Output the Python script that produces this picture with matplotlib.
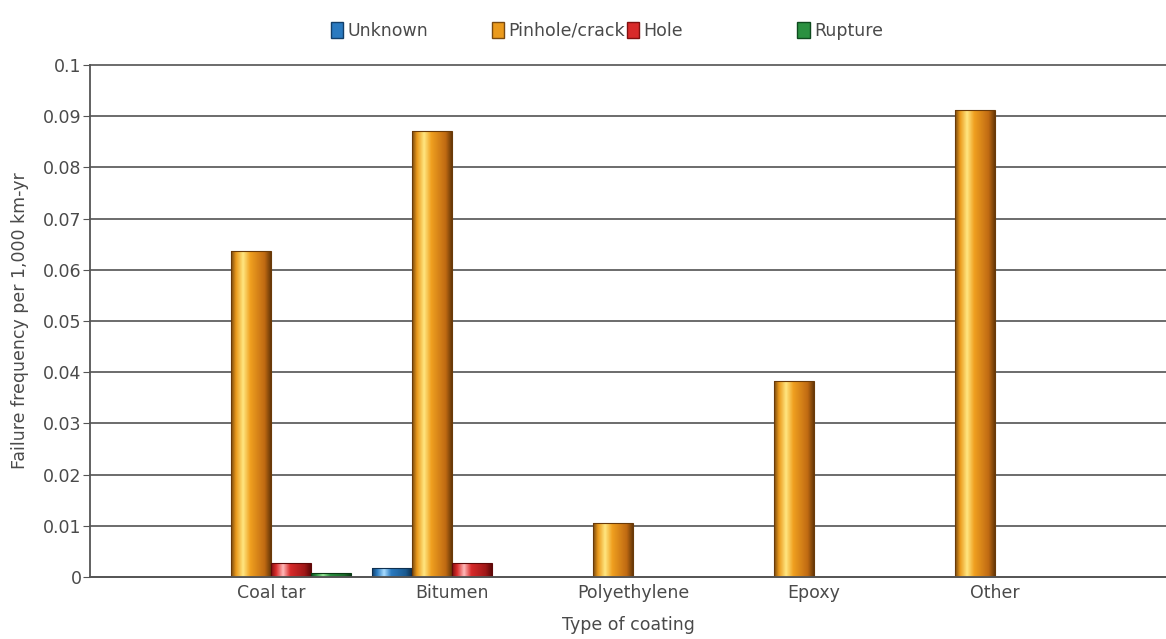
import numpy as np
import matplotlib
matplotlib.use("Agg")
import matplotlib.pyplot as plt
from matplotlib.colors import LinearSegmentedColormap
from matplotlib.patches import Patch

# data
coatings = ["Coal tar", "Bitumen", "Polyethylene", "Epoxy", "Other"]
series = ["Unknown", "Pinhole/crack", "Hole", "Rupture"]
unknown = [0.0, 0.0018, 0.0, 0.0, 0.0]
pinhole = [0.0637, 0.0872, 0.0105, 0.0383, 0.0912]
hole = [0.0027, 0.0027, 0.0, 0.0, 0.0]
rupture = [0.0008, 0.0, 0.0, 0.0, 0.0]
yticks = [0, 0.01, 0.02, 0.03, 0.04, 0.05, 0.06, 0.07, 0.08, 0.09, 0.1]
ytick_labels = ["0", "0.01", "0.02", "0.03", "0.04", "0.05", "0.06", "0.07", "0.08", "0.09", "0.1"]

values = [unknown, pinhole, hole, rupture]

# colour stops for the cylinder look: edge, mid, highlight, mid, shade, edge
shades = {
    "Unknown": ["#123f6a", "#2a7ac0", "#a8dcff", "#2a7ac0", "#1a5a90", "#0e3050"],
    "Pinhole/crack": ["#7a4a10", "#eb9a1c", "#ffe680", "#f0a020", "#c06a12", "#6a3a08"],
    "Hole": ["#801010", "#d82a2a", "#ffb8b8", "#d82a2a", "#a01818", "#600808"],
    "Rupture": ["#0e4a1e", "#2a9040", "#98e898", "#2a9040", "#1a6a2a", "#0a3a14"],
}
stops = [0.0, 0.12, 0.3, 0.48, 0.85, 1.0]
legend_x = [0.2765, 0.4145, 0.5305, 0.6765]

plt.rcParams["font.family"] = ["DejaVu Sans"]
text_color = "#4a4a4a"
fs = 12.5

fig = plt.figure(figsize=(11.66, 6.39), dpi=100)
ax = fig.add_axes([0.0772, 0.097, 0.9228, 0.8013])

x = np.arange(len(coatings))
w = 0.22
offsets = [-1.5, -0.5, 0.5, 1.5]

grad = np.linspace(0, 1, 64).reshape(1, -1)
for name, vals, off in zip(series, values, offsets):
    cmap = LinearSegmentedColormap.from_list(name, list(zip(stops, shades[name])))
    bars = ax.bar(x + off * w, vals, w, color="none", edgecolor="none", zorder=3)
    for b in bars:
        h = b.get_height()
        if h <= 0:
            continue
        x0 = b.get_x()
        im = ax.imshow(grad, extent=[x0, x0 + b.get_width(), 0, h], aspect="auto",
                       cmap=cmap, interpolation="bilinear", zorder=3)
        im.set_clip_path(b)
        ax.add_patch(plt.Rectangle((x0, 0), b.get_width(), h, fill=False,
                                   edgecolor=shades[name][-1], lw=0.8, zorder=4))

ax.set_xlim(-1, 4.945)
ax.set_ylim(0, 0.1)
ax.set_yticks(yticks)
ax.set_yticklabels(ytick_labels)
ax.set_xticks(x)
ax.set_xticklabels(coatings)
ax.yaxis.grid(True, color="#606060", lw=1.3, zorder=1)
for gl in ax.get_ygridlines():
    gl.set_clip_on(False)
ax.set_axisbelow(True)

for s in ["top", "right"]:
    ax.spines[s].set_visible(False)
for s in ["left", "bottom"]:
    ax.spines[s].set_color("#555555")
    ax.spines[s].set_linewidth(1.3)
    ax.spines[s].set_zorder(5)

ax.tick_params(axis="y", length=5, color="#555555", labelcolor=text_color, labelsize=fs, pad=1)
ax.tick_params(axis="x", length=0, labelcolor=text_color, labelsize=fs, pad=5)
ax.set_xlabel("Type of coating", color=text_color, fontsize=fs, labelpad=10)
ax.set_ylabel("Failure frequency per 1,000 km-yr", color=text_color, fontsize=fs, labelpad=10)

for name, lx in zip(series, legend_x):
    handle = Patch(facecolor=shades[name][1], edgecolor=shades[name][0])
    fig.legend([handle], [name], loc="center left", bbox_to_anchor=(lx, 0.952),
               frameon=False, fontsize=fs, handlelength=0.7, handleheight=1.1,
               handletextpad=0.25, borderpad=0, labelcolor=text_color)

fig.savefig("out.png", dpi=100)
